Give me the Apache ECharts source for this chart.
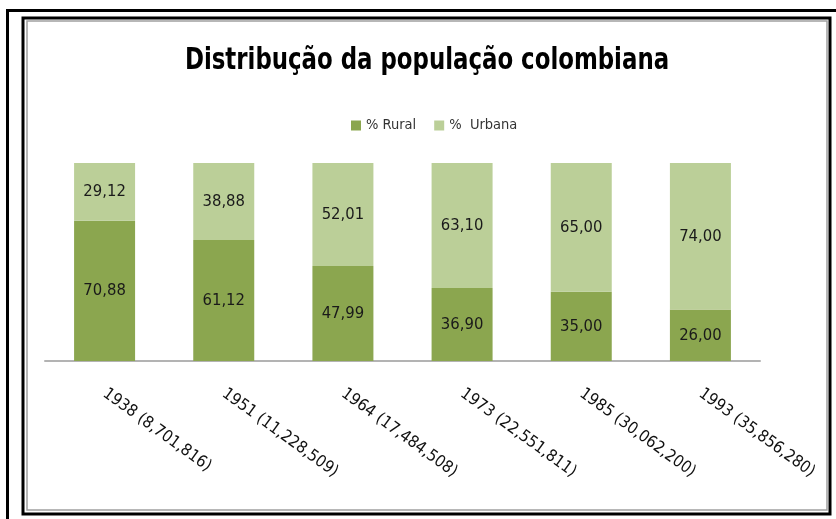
<!DOCTYPE html>
<html>
<head>
<meta charset="utf-8">
<script src="https://cdn.jsdelivr.net/npm/echarts@6/dist/echarts.min.js"></script>
<style>
  html, body { margin: 0; padding: 0; background: #fff; }
  #chart { width: 836px; height: 519px; }
</style>
</head>
<body>
<div id="chart"></div>
<script>
// data
var years = [
  "1938 (8,701,816)",
  "1951 (11,228,509)",
  "1964 (17,484,508)",
  "1973 (22,551,811)",
  "1985 (30,062,200)",
  "1993 (35,856,280)"
];
var rural = [70.88, 61.12, 47.99, 36.90, 35.00, 26.00];
var urbana = [29.12, 38.88, 52.01, 63.10, 65.00, 74.00];

var narrow = '"DejaVu Sans Condensed", "Noto Sans", sans-serif';

function fmt(p) {
  return p.value.toFixed(2).replace(".", ",");
}

var chart = echarts.init(document.getElementById("chart"));
chart.setOption({
  animation: false,
  legend: {
    left: 346,
    top: 113,
    itemWidth: 10,
    itemHeight: 10,
    itemGap: 18,
    icon: "rect",
    textStyle: { fontFamily: narrow, fontSize: 14.5, color: "#333" },
    data: ["% Rural", "%  Urbana"]
  },
  grid: { left: 45, right: 76, top: 163, bottom: 158 },
  xAxis: {
    type: "category",
    data: years,
    axisTick: { show: false },
    axisLine: { lineStyle: { color: "#b3b3b3", width: 2 } },
    axisLabel: {
      rotate: -36,
      margin: 31,
      interval: 0,
      fontFamily: narrow,
      fontSize: 16.5,
      color: "#111"
    }
  },
  yAxis: {
    type: "value",
    min: 0,
    max: 100,
    show: false,
    splitLine: { show: false }
  },
  series: [
    {
      name: "% Rural",
      type: "bar",
      stack: "total",
      barWidth: 61,
      data: rural,
      itemStyle: { color: "#8ba64f" },
      label: {
        show: true,
        position: "inside",
        formatter: fmt,
        fontFamily: narrow,
        fontSize: 16.5,
        color: "#1a1a1a"
      }
    },
    {
      name: "%  Urbana",
      type: "bar",
      stack: "total",
      barWidth: 61,
      data: urbana,
      itemStyle: { color: "#bbcf98" },
      label: {
        show: true,
        position: "inside",
        formatter: fmt,
        fontFamily: narrow,
        fontSize: 16.5,
        color: "#1a1a1a"
      }
    }
  ],
  graphic: [
    // title, squeezed a bit to match the narrow original face
    {
      type: "text",
      x: 427,
      y: 45,
      scaleX: 0.82,
      silent: true,
      style: {
        text: "Distribução da população colombiana",
        fontFamily: narrow,
        fontWeight: "bold",
        fontSize: 31,
        fill: "#000",
        align: "center",
        verticalAlign: "top"
      }
    },
    // outer cropped frame
    { type: "rect", shape: { x: 6, y: 9, width: 830, height: 3 }, style: { fill: "#000" }, silent: true },
    { type: "rect", shape: { x: 6, y: 9, width: 3, height: 510 }, style: { fill: "#000" }, silent: true },
    // inner chart frame
    { type: "rect", shape: { x: 23, y: 18, width: 807, height: 496 }, style: { fill: null, stroke: "#000", lineWidth: 3 }, silent: true },
    { type: "rect", shape: { x: 27, y: 21, width: 800, height: 489 }, style: { fill: null, stroke: "#a0a0a0", lineWidth: 1.5 }, silent: true }
  ]
});
</script>
</body>
</html>
